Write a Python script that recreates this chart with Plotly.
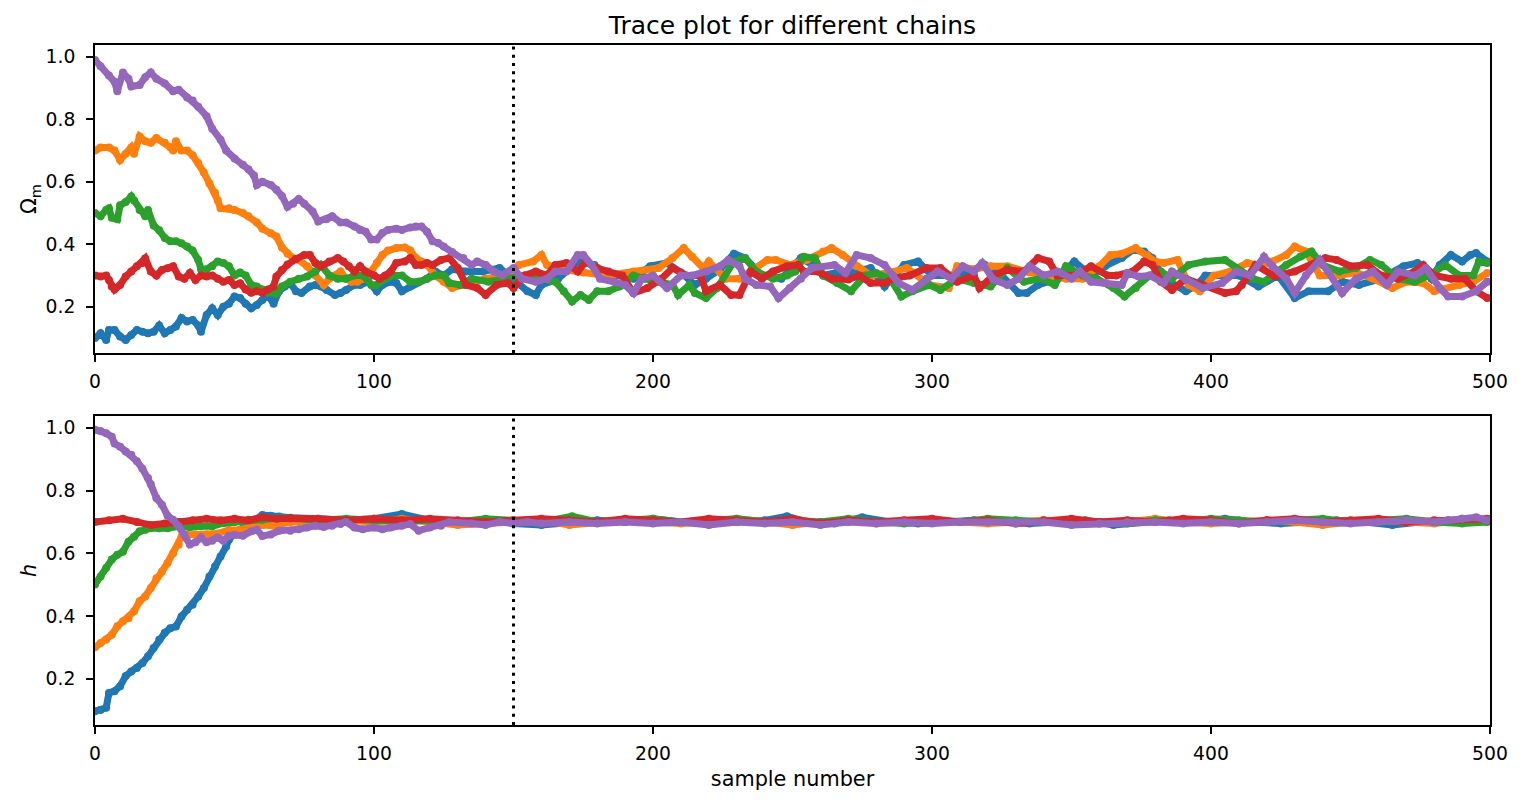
import plotly.graph_objects as go

# ---------------- data ----------------
chain_names = ["chain 1", "chain 2", "chain 3", "chain 4", "chain 5"]
chain_colors = ["#1f77b4", "#ff7f0e", "#2ca02c", "#d62728", "#9467bd"]
burn_in = 150
x_ticks = [0, 100, 200, 300, 400, 500]
y_ticks = [0.2, 0.4, 0.6, 0.8, 1.0]

# Omega_m traces: sample numbers and values
om_blue_s = [0,2,4,5,7,9,11,13,15,17,19,21,23,25,27,29,31,33,35,37,38,40,42,44,46,48,50,52,54,56,58,60,62,64,66,68,70,72,74,77,79,81,83,86,88,90,93,95,98,101,103,106,108,110,113,116,119,122,125,128,133,139,145,151,155,158,160,166,173,179,183,188,193,199,205,210,215,219,224,229,233,239,246,253,258,261,266,271,278,283,290,295,300,307,314,319,325,331,334,338,345,351,357,362,368,372,376,379,383,391,395,398,405,410,417,424,430,435,442,447,453,461,469,474,479,482,486,490,493,495,499]
om_blue = [0.10,0.115,0.094,0.126,0.126,0.105,0.094,0.11,0.126,0.12,0.115,0.12,0.14,0.115,0.126,0.137,0.164,0.153,0.158,0.14,0.12,0.174,0.195,0.174,0.20,0.21,0.233,0.228,0.21,0.195,0.206,0.222,0.238,0.21,0.25,0.265,0.275,0.25,0.244,0.265,0.27,0.265,0.254,0.238,0.244,0.254,0.27,0.27,0.28,0.25,0.27,0.28,0.276,0.25,0.265,0.28,0.29,0.313,0.30,0.32,0.313,0.313,0.324,0.28,0.25,0.238,0.27,0.29,0.345,0.334,0.30,0.30,0.29,0.33,0.34,0.31,0.27,0.29,0.32,0.37,0.356,0.30,0.29,0.356,0.33,0.30,0.31,0.31,0.324,0.265,0.334,0.345,0.30,0.30,0.313,0.334,0.30,0.244,0.244,0.27,0.29,0.345,0.30,0.33,0.356,0.382,0.377,0.356,0.29,0.25,0.27,0.30,0.30,0.30,0.265,0.30,0.228,0.25,0.25,0.28,0.27,0.29,0.33,0.34,0.29,0.334,0.366,0.345,0.366,0.372,0.345]

om_orange_s = [0,2,5,7,9,11,13,14,16,18,20,22,25,27,28,29,31,33,35,37,39,41,43,44,45,48,50,53,55,58,60,63,65,67,69,71,73,76,79,82,84,86,88,90,92,94,96,99,101,103,105,108,111,113,115,117,119,122,125,128,132,140,147,152,157,160,162,168,175,184,193,202,207,211,214,218,220,226,231,236,241,244,249,255,261,264,268,273,278,285,291,299,306,309,315,321,327,335,341,348,354,360,364,368,373,377,380,383,388,392,396,401,407,413,418,422,427,430,434,439,446,452,458,465,470,476,480,489,494,499]
om_orange = [0.70,0.71,0.71,0.70,0.67,0.69,0.71,0.69,0.745,0.73,0.725,0.74,0.725,0.71,0.70,0.73,0.70,0.70,0.685,0.66,0.63,0.595,0.565,0.54,0.515,0.515,0.51,0.50,0.49,0.47,0.45,0.435,0.425,0.39,0.37,0.355,0.35,0.33,0.30,0.27,0.29,0.30,0.313,0.29,0.28,0.28,0.29,0.313,0.34,0.366,0.38,0.388,0.39,0.38,0.356,0.345,0.334,0.30,0.28,0.26,0.27,0.29,0.30,0.334,0.345,0.366,0.334,0.32,0.31,0.30,0.313,0.324,0.356,0.388,0.36,0.324,0.345,0.29,0.29,0.32,0.35,0.35,0.334,0.35,0.377,0.388,0.366,0.33,0.30,0.31,0.324,0.27,0.26,0.33,0.32,0.33,0.33,0.31,0.30,0.29,0.29,0.33,0.366,0.37,0.388,0.366,0.345,0.34,0.35,0.27,0.25,0.30,0.313,0.34,0.33,0.345,0.366,0.393,0.377,0.30,0.30,0.31,0.29,0.26,0.28,0.276,0.25,0.27,0.28,0.308]

om_green_s = [0,2,4,5,6,8,9,11,13,14,16,18,19,21,23,25,27,29,31,33,35,37,38,40,42,44,46,48,50,52,54,56,58,60,62,65,67,70,73,76,79,81,84,87,90,93,96,99,101,104,107,110,113,116,119,122,125,127,131,135,141,148,154,160,165,168,171,174,177,180,184,188,193,197,202,207,209,213,215,219,223,229,233,237,243,248,251,254,258,261,266,271,276,280,285,289,293,299,303,309,315,321,327,333,339,344,348,354,359,365,369,373,378,382,386,392,398,405,409,415,419,427,432,436,440,446,452,457,461,467,473,478,484,489,494,496,499]
om_green = [0.50,0.49,0.51,0.515,0.485,0.48,0.525,0.535,0.553,0.54,0.51,0.49,0.51,0.46,0.445,0.42,0.41,0.41,0.403,0.393,0.38,0.35,0.32,0.32,0.33,0.345,0.34,0.33,0.30,0.31,0.30,0.27,0.265,0.255,0.245,0.242,0.265,0.28,0.29,0.297,0.313,0.334,0.30,0.29,0.29,0.30,0.30,0.27,0.27,0.29,0.30,0.30,0.28,0.28,0.29,0.30,0.30,0.276,0.27,0.29,0.28,0.29,0.30,0.29,0.28,0.25,0.217,0.238,0.222,0.25,0.25,0.265,0.30,0.29,0.28,0.27,0.238,0.27,0.244,0.228,0.26,0.345,0.356,0.313,0.29,0.30,0.313,0.36,0.356,0.30,0.276,0.25,0.30,0.308,0.29,0.233,0.25,0.27,0.254,0.29,0.276,0.265,0.324,0.28,0.29,0.27,0.33,0.30,0.29,0.26,0.233,0.26,0.30,0.313,0.29,0.334,0.345,0.35,0.324,0.29,0.28,0.334,0.36,0.377,0.334,0.313,0.324,0.35,0.334,0.29,0.28,0.30,0.334,0.30,0.30,0.345,0.34]

om_red_s = [0,2,4,5,6,7,9,11,13,15,17,18,20,22,24,26,28,30,32,34,36,38,40,42,44,46,48,50,52,54,56,58,60,62,64,65,67,69,72,75,77,79,81,84,87,89,91,93,95,97,100,102,104,106,108,111,113,115,117,119,121,124,127,130,133,137,140,144,148,150,154,158,162,165,169,173,176,180,184,189,193,198,203,207,212,217,219,224,228,231,235,239,243,248,252,254,259,264,270,274,278,283,286,292,298,303,309,315,317,322,327,333,338,342,345,351,357,363,366,372,376,379,382,386,391,397,405,409,411,416,423,430,436,441,445,450,456,461,467,473,476,480,486,491,495,499]
om_red = [0.30,0.297,0.30,0.286,0.265,0.255,0.27,0.297,0.313,0.33,0.34,0.355,0.313,0.30,0.318,0.323,0.33,0.297,0.29,0.308,0.286,0.30,0.297,0.30,0.29,0.28,0.286,0.27,0.275,0.255,0.245,0.25,0.245,0.255,0.265,0.297,0.318,0.335,0.353,0.366,0.366,0.34,0.33,0.345,0.356,0.345,0.33,0.313,0.33,0.313,0.30,0.29,0.30,0.313,0.34,0.345,0.356,0.334,0.334,0.34,0.334,0.35,0.356,0.324,0.27,0.26,0.238,0.27,0.276,0.26,0.30,0.313,0.30,0.334,0.34,0.313,0.345,0.324,0.313,0.30,0.244,0.26,0.29,0.324,0.30,0.30,0.25,0.27,0.238,0.238,0.313,0.29,0.313,0.33,0.334,0.313,0.313,0.29,0.287,0.30,0.276,0.276,0.29,0.30,0.324,0.324,0.28,0.30,0.26,0.30,0.318,0.313,0.356,0.345,0.30,0.30,0.33,0.30,0.30,0.313,0.345,0.334,0.28,0.254,0.29,0.27,0.244,0.25,0.27,0.334,0.297,0.313,0.334,0.356,0.35,0.33,0.334,0.30,0.29,0.313,0.334,0.30,0.29,0.29,0.25,0.228]

om_purple_s = [0,2,5,7,8,10,12,13,16,18,20,22,25,28,30,33,35,37,40,42,45,47,50,53,55,57,58,60,63,65,67,69,71,73,75,78,80,83,85,88,90,93,95,97,99,101,103,105,108,110,113,115,117,119,121,123,125,128,132,135,137,140,143,146,150,153,158,162,165,169,173,175,178,181,186,190,193,196,200,205,210,214,219,224,227,231,233,237,242,245,249,253,257,265,269,273,278,283,286,288,293,298,302,307,311,315,318,322,327,331,335,340,345,350,353,357,362,368,370,374,378,383,386,391,397,404,409,414,419,422,427,430,434,439,442,447,452,458,463,467,473,477,482,485,490,495,499]
om_purple = [0.99,0.97,0.94,0.92,0.89,0.95,0.93,0.905,0.91,0.935,0.95,0.93,0.915,0.89,0.895,0.87,0.86,0.84,0.81,0.77,0.735,0.70,0.675,0.655,0.64,0.62,0.59,0.60,0.59,0.575,0.555,0.52,0.53,0.545,0.53,0.505,0.473,0.48,0.49,0.47,0.47,0.457,0.446,0.44,0.415,0.415,0.436,0.446,0.45,0.446,0.454,0.457,0.457,0.44,0.41,0.404,0.393,0.375,0.356,0.334,0.345,0.334,0.313,0.302,0.324,0.29,0.28,0.29,0.313,0.313,0.366,0.366,0.334,0.29,0.28,0.27,0.244,0.29,0.30,0.26,0.30,0.30,0.313,0.33,0.35,0.33,0.29,0.27,0.265,0.228,0.26,0.29,0.324,0.334,0.308,0.366,0.356,0.334,0.30,0.276,0.254,0.29,0.313,0.29,0.33,0.313,0.34,0.287,0.27,0.29,0.33,0.30,0.313,0.29,0.313,0.28,0.276,0.27,0.308,0.297,0.30,0.276,0.313,0.287,0.26,0.276,0.313,0.30,0.36,0.33,0.29,0.244,0.30,0.35,0.313,0.244,0.29,0.313,0.27,0.313,0.30,0.324,0.26,0.233,0.233,0.25,0.28]

# h traces: sample numbers and values
h_blue_s = [0,2,4,5,7,9,11,13,15,17,19,21,23,25,27,29,31,33,35,37,39,41,43,45,47,48,50,52,55,58,60,63,66,70,80,90,100,110,120,130,140,150,160,170,180,190,200,210,220,230,240,248,255,265,275,285,295,305,315,325,335,345,355,365,375,385,395,405,415,425,435,445,455,465,475,485,495,499]
h_blue = [0.096,0.10,0.107,0.154,0.16,0.176,0.208,0.223,0.234,0.25,0.271,0.298,0.324,0.346,0.361,0.366,0.398,0.42,0.436,0.462,0.489,0.526,0.558,0.59,0.621,0.643,0.664,0.675,0.696,0.707,0.722,0.72,0.717,0.713,0.71,0.705,0.71,0.725,0.705,0.70,0.708,0.695,0.69,0.70,0.705,0.70,0.71,0.70,0.705,0.70,0.705,0.718,0.70,0.695,0.715,0.70,0.695,0.70,0.705,0.70,0.695,0.70,0.705,0.69,0.70,0.705,0.70,0.71,0.70,0.695,0.70,0.705,0.70,0.69,0.70,0.705,0.70,0.705]

h_orange_s = [0,2,4,6,8,10,12,14,16,18,20,22,24,26,28,30,31,33,36,40,44,48,52,56,60,64,70,80,90,100,110,120,130,140,150,160,170,180,190,200,210,220,230,240,250,260,270,280,290,300,310,320,330,340,350,360,370,380,390,400,410,420,430,440,450,460,470,480,490,499]
h_orange = [0.30,0.314,0.325,0.34,0.367,0.383,0.393,0.415,0.447,0.462,0.489,0.52,0.542,0.569,0.60,0.627,0.653,0.658,0.66,0.66,0.663,0.674,0.675,0.684,0.69,0.688,0.70,0.70,0.705,0.70,0.71,0.70,0.69,0.695,0.70,0.705,0.69,0.70,0.705,0.70,0.695,0.70,0.71,0.70,0.69,0.70,0.705,0.695,0.70,0.705,0.70,0.695,0.70,0.705,0.70,0.695,0.70,0.71,0.70,0.695,0.70,0.705,0.70,0.69,0.70,0.705,0.70,0.695,0.705,0.70]

h_green_s = [0,2,4,6,8,10,12,14,16,18,20,23,26,30,34,38,42,46,50,55,60,65,70,80,90,100,110,120,130,140,150,160,171,180,190,200,210,220,230,240,250,260,270,280,290,300,310,320,330,340,350,360,370,380,390,400,410,420,430,440,450,460,470,480,490,499]
h_green = [0.50,0.526,0.553,0.58,0.595,0.605,0.637,0.653,0.67,0.675,0.68,0.68,0.68,0.686,0.683,0.686,0.686,0.696,0.70,0.707,0.707,0.712,0.712,0.705,0.71,0.705,0.70,0.705,0.70,0.71,0.705,0.70,0.718,0.70,0.705,0.71,0.70,0.705,0.71,0.70,0.705,0.70,0.71,0.70,0.695,0.705,0.70,0.71,0.705,0.70,0.705,0.70,0.695,0.705,0.70,0.71,0.705,0.70,0.705,0.71,0.70,0.705,0.71,0.70,0.695,0.70]

h_red_s = [0,5,10,15,20,25,30,35,40,45,50,55,60,65,70,80,90,100,110,120,130,140,150,160,170,180,190,200,210,220,230,240,250,260,270,280,290,300,310,320,330,340,350,360,370,380,390,400,410,420,430,440,450,460,470,480,490,499]
h_red = [0.70,0.705,0.71,0.70,0.69,0.695,0.70,0.705,0.71,0.705,0.71,0.705,0.715,0.71,0.712,0.71,0.705,0.71,0.705,0.71,0.705,0.70,0.705,0.71,0.705,0.70,0.71,0.705,0.70,0.71,0.705,0.70,0.71,0.695,0.705,0.70,0.705,0.71,0.70,0.705,0.695,0.705,0.71,0.70,0.705,0.70,0.71,0.705,0.695,0.705,0.71,0.70,0.705,0.71,0.70,0.705,0.71,0.71]

h_purple_s = [0,2,4,6,7,9,11,13,15,17,19,20,22,24,26,28,30,32,34,36,38,40,42,44,46,48,50,53,56,58,60,63,66,70,73,76,79,82,85,88,90,93,96,100,103,106,110,113,116,120,124,127,135,140,145,150,155,160,170,180,190,200,210,220,230,240,250,260,270,280,290,300,310,320,330,340,350,360,370,380,390,400,410,420,430,440,450,460,470,480,490,495,499]
h_purple = [0.994,0.99,0.983,0.972,0.95,0.94,0.925,0.914,0.894,0.87,0.84,0.82,0.776,0.755,0.72,0.707,0.686,0.66,0.628,0.635,0.65,0.635,0.64,0.65,0.64,0.656,0.658,0.656,0.67,0.675,0.655,0.66,0.672,0.672,0.677,0.682,0.688,0.684,0.688,0.693,0.70,0.682,0.677,0.682,0.677,0.682,0.688,0.693,0.672,0.682,0.688,0.70,0.695,0.69,0.70,0.695,0.70,0.695,0.70,0.695,0.70,0.695,0.70,0.69,0.70,0.695,0.70,0.69,0.70,0.695,0.70,0.695,0.70,0.70,0.695,0.70,0.69,0.695,0.70,0.70,0.695,0.70,0.695,0.70,0.705,0.70,0.695,0.70,0.705,0.70,0.71,0.715,0.705]

om_series = [(om_blue_s, om_blue), (om_orange_s, om_orange), (om_green_s, om_green),
             (om_red_s, om_red), (om_purple_s, om_purple)]
h_series = [(h_blue_s, h_blue), (h_orange_s, h_orange), (h_green_s, h_green),
            (h_red_s, h_red), (h_purple_s, h_purple)]

# ---------------- figure ----------------
FONT = "DejaVu Sans"
TICK_SIZE, LABEL_SIZE, TITLE_SIZE = 18.75, 20.8, 25
# the page body adds an 8 px offset; the figure is sized so the axes land where the reference has them
W, H = 1516, 795
ML, MR, MT, MB = 87, 34, 37, 78
plot_h = H - MT - MB
top_dom = [(717 - 345) / plot_h, 1.0]
bot_dom = [0.0, (717 - 408) / plot_h]

fig = go.Figure()
for (sx, sy), col, name in zip(om_series, chain_colors, chain_names):
    fig.add_trace(go.Scatter(x=sx, y=sy, mode="lines+markers", name=name,
                             line=dict(color=col, width=7),
                             marker=dict(color=col, size=8),
                             xaxis="x", yaxis="y", showlegend=False))
for (sx, sy), col, name in zip(h_series, chain_colors, chain_names):
    fig.add_trace(go.Scatter(x=sx, y=sy, mode="lines+markers", name=name,
                             line=dict(color=col, width=7),
                             marker=dict(color=col, size=8),
                             xaxis="x2", yaxis="y2", showlegend=False))

for xr, yr in (("x", "y"), ("x2", "y2")):
    fig.add_shape(type="line", xref=xr, yref=yr + " domain",
                  x0=burn_in, x1=burn_in, y0=0, y1=1,
                  line=dict(color="black", width=3, dash="3px,5.2px"))

axis_common = dict(showline=True, linecolor="black", linewidth=1.6, mirror=True,
                   ticks="outside", ticklen=7, tickwidth=1.6, tickcolor="black",
                   showgrid=False, zeroline=False, automargin=False,
                   tickfont=dict(family=FONT, size=TICK_SIZE, color="black"))

fig.update_layout(
    width=W, height=H,
    margin=dict(l=ML, r=MR, t=MT, b=MB),
    paper_bgcolor="white", plot_bgcolor="white",
    font=dict(family=FONT, size=LABEL_SIZE, color="black"),
    title=dict(text="Trace plot for different chains", x=0.5, xref="paper",
               xanchor="center", y=1 - 17 / H, yref="container", yanchor="middle",
               font=dict(family=FONT, size=TITLE_SIZE, color="black")),
    xaxis=dict(domain=[0, 1], range=[0, 500], tickvals=x_ticks, anchor="y",
               ticklabelstandoff=4, **axis_common),
    yaxis=dict(domain=top_dom, range=[0.052, 1.038], tickvals=y_ticks,
               tickformat=".1f", anchor="x", ticklabelstandoff=7,
               title=dict(text="Ω<sub>m</sub>", standoff=3,
                          font=dict(family=FONT, size=LABEL_SIZE)), **axis_common),
    xaxis2=dict(domain=[0, 1], range=[0, 500], tickvals=x_ticks, anchor="y2",
                ticklabelstandoff=4,
                title=dict(text="sample number", standoff=8,
                           font=dict(family=FONT, size=LABEL_SIZE)), **axis_common),
    yaxis2=dict(domain=bot_dom, range=[0.052, 1.038], tickvals=y_ticks,
                tickformat=".1f", anchor="x2", ticklabelstandoff=7,
                title=dict(text="<i>h</i>", standoff=3,
                           font=dict(family=FONT, size=LABEL_SIZE)), **axis_common),
)

fig.write_html("out.html")
